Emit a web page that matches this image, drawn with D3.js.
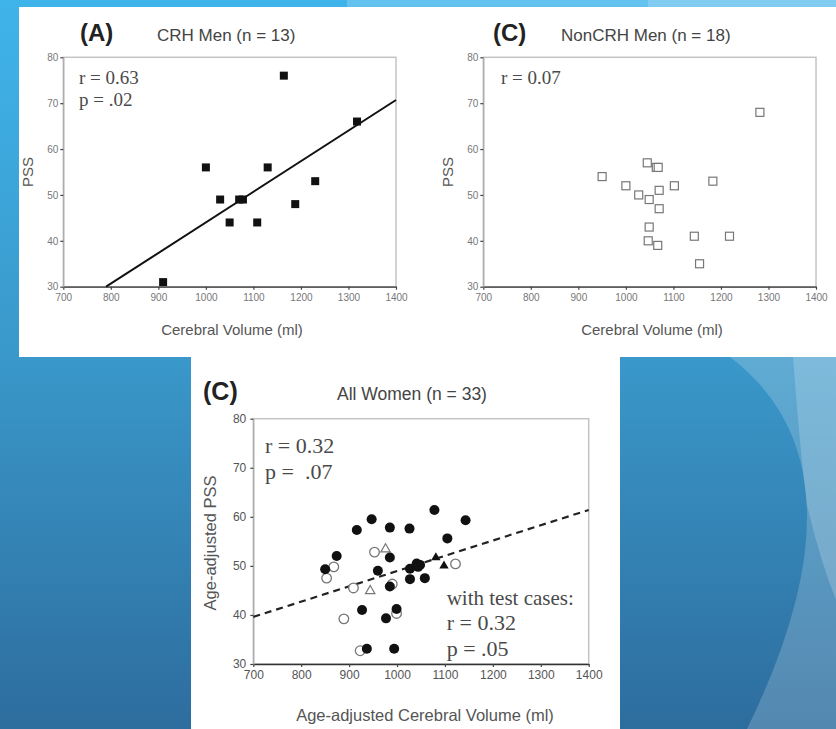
<!DOCTYPE html>
<html>
<head>
<meta charset="utf-8">
<script src="https://cdn.jsdelivr.net/npm/d3@7"></script>
<style>
  body { margin: 0; background: #2f74a4; }
  svg { display: block; }
</style>
</head>
<body>
<div id="chart"></div>
<script>
  // tick values shared by the three panels
  var volumeTicks = [700, 800, 900, 1000, 1100, 1200, 1300, 1400];
  var pssTicks = [30, 40, 50, 60, 70, 80];

  // (A) CRH men
  var crhVolume = [910, 1000, 1030, 1050, 1070, 1078, 1108, 1130, 1164, 1188, 1230, 1318];
  var crhPss = [31, 56, 49, 44, 49, 49, 44, 56, 76, 48, 53, 66];
  var crhFit = [[790, 30], [1400, 70.7]];

  // (C) NonCRH men
  var nonCrhVolume = [950, 1000, 1027, 1045, 1049, 1049, 1047, 1064, 1068, 1070, 1070, 1067, 1102, 1144, 1155, 1183, 1218, 1282];
  var nonCrhPss = [54, 52, 50, 57, 49, 43, 40, 56, 56, 51, 47, 39, 52, 41, 35, 53, 41, 68];

  // (C) all women
  var womenFilledVol = [850, 874, 916, 947, 985, 985, 960, 985, 1026, 1078, 1143, 1105, 1027, 1041, 1048, 1044, 1027, 1058, 927, 999, 977, 937, 994];
  var womenFilledPss = [49.3, 52, 57.3, 59.5, 57.8, 51.7, 49, 45.8, 57.6, 61.4, 59.3, 55.6, 49.4, 50.5, 50.2, 49.8, 47.3, 47.5, 41, 41.2, 39.3, 33.1, 33.1];
  var womenOpenVol = [853, 868, 953, 909, 889, 999, 990, 923, 1122];
  var womenOpenPss = [47.5, 49.8, 52.8, 45.5, 39.2, 40.3, 46.3, 32.7, 50.4];
  var womenFilledTriVol = [1081, 1098];
  var womenFilledTriPss = [51.7, 50];
  var womenOpenTriVol = [976, 944];
  var womenOpenTriPss = [53.4, 44.9];
  var womenFit = [[700, 39.6], [1400, 61.4]];

  var W = 836, H = 729;
  var sans = "'Liberation Sans', Arial, sans-serif";
  var serif = "'Liberation Serif', 'Times New Roman', serif";

  var svg = d3.select("#chart")
    .append("svg")
    .attr("width", W)
    .attr("height", H);

  // ---- slide background ----
  var defs = svg.append("defs");
  var grad = defs.append("linearGradient")
    .attr("id", "bg").attr("x1", 0).attr("y1", 0).attr("x2", 0).attr("y2", 1);
  grad.append("stop").attr("offset", "0%").attr("stop-color", "#3fb4ea");
  grad.append("stop").attr("offset", "49%").attr("stop-color", "#3a98ca");
  grad.append("stop").attr("offset", "100%").attr("stop-color", "#2d6d9e");

  svg.append("rect").attr("width", W).attr("height", H).attr("fill", "url(#bg)");

  // lighter curved bands on the right
  svg.append("path")
    .attr("d", "M730,357 Q875,467 747,729 L836,729 L836,357 Z M347,0 L836,0 L836,8 L347,8 Z")
    .attr("fill", "#fff").attr("fill-opacity", 0.19);
  svg.append("path")
    .attr("d", "M793,357 Q800,450 807,505 Q820,560 836,600 L836,357 Z M648,0 L836,0 L836,8 L648,8 Z")
    .attr("fill", "#fff").attr("fill-opacity", 0.19);

  // white figure cut-outs
  svg.append("rect").attr("x", 19).attr("y", 7).attr("width", W - 19).attr("height", 350).attr("fill", "#fff");
  svg.append("rect").attr("x", 191).attr("y", 357).attr("width", 429).attr("height", H - 357).attr("fill", "#fff");

  // ---- one scatter panel ----
  function drawPanel(p)
  {
    var x = d3.scaleLinear().domain([700, 1400]).range([p.left, p.right]);
    var y = d3.scaleLinear().domain([30, 80]).range([p.bottom, p.top]);
    var g = svg.append("g");

    // frame
    g.append("rect")
      .attr("x", p.left).attr("y", p.top)
      .attr("width", p.right - p.left).attr("height", p.bottom - p.top)
      .attr("fill", "none").attr("stroke", "#c4c4c4").attr("stroke-width", 1.5);

    var ax = g.append("g")
      .attr("transform", "translate(0," + p.bottom + ")")
      .call(d3.axisBottom(x).tickValues(volumeTicks).tickFormat(d3.format("d"))
        .tickSize(3).tickSizeOuter(0).tickPadding(p.xPad));
    ax.select(".domain").attr("stroke", "#333").attr("stroke-width", 1.3);

    var ay = g.append("g")
      .attr("transform", "translate(" + p.left + ",0)")
      .call(d3.axisLeft(y).tickValues(pssTicks).tickFormat(d3.format("d"))
        .tickSize(3).tickSizeOuter(0).tickPadding(p.yPad));
    ay.select(".domain").attr("stroke", "#aaa").attr("stroke-width", 1.3);

    [ax, ay].forEach(function(a) {
      a.selectAll(".tick line").attr("stroke", "#444").attr("stroke-width", 1.2);
      a.selectAll("text")
        .attr("font-family", sans)
        .attr("font-size", p.tickFont)
        .attr("fill", p.tickColor);
    });

    // titles
    g.append("text")
      .attr("x", p.tagX).attr("y", p.titleY)
      .attr("font-family", sans).attr("font-weight", "bold")
      .attr("font-size", p.tagFont).attr("fill", "#222")
      .text(p.tag);
    g.append("text")
      .attr("x", p.titleX).attr("y", p.titleY)
      .attr("font-family", sans).attr("font-size", p.titleFont).attr("fill", "#444")
      .text(p.title);

    // axis names
    g.append("text")
      .attr("transform", "translate(" + p.yLabelX + "," + p.yLabelY + ")rotate(-90)")
      .attr("text-anchor", "middle")
      .attr("font-family", sans).attr("font-size", p.labelFont).attr("fill", "#555")
      .text(p.yLabel);
    g.append("text")
      .attr("x", p.xLabelX).attr("y", p.xLabelY)
      .attr("text-anchor", "middle")
      .attr("font-family", sans).attr("font-size", p.labelFont).attr("fill", "#555")
      .text(p.xLabel);

    return { g: g, x: x, y: y };
  }

  function addNote(g, xPos, yPos, size, txt)
  {
    g.append("text")
      .attr("x", xPos).attr("y", yPos)
      .attr("font-family", serif).attr("font-size", size).attr("fill", "#4a4a4a")
      .text(txt);
  }

  var line = function(sc) {
    return d3.line().x(function(d) { return sc.x(d[0]); }).y(function(d) { return sc.y(d[1]); });
  };

  // ---- (A) CRH men ----
  var pa = drawPanel({
    left: 63.3, right: 396, top: 57.3, bottom: 286.7,
    xPad: 4, yPad: 2, tickFont: 10, tickColor: "#777",
    tag: "(A)", tagX: 80, tagFont: 24, title: "CRH Men (n = 13)", titleX: 157, titleY: 41, titleFont: 17,
    yLabel: "PSS", yLabelX: 33, yLabelY: 172, xLabel: "Cerebral Volume (ml)", xLabelX: 232, xLabelY: 335, labelFont: 15
  });
  pa.g.append("path").datum(crhFit)
    .attr("d", line(pa)).attr("stroke", "#111").attr("stroke-width", 2).attr("fill", "none");
  pa.g.selectAll("rect.pt")
    .data(crhVolume)
    .enter()
    .append("rect")
    .attr("class", "pt")
    .attr("x", function(d) { return pa.x(d) - 4; })
    .attr("y", function(d, i) { return pa.y(crhPss[i]) - 4; })
    .attr("width", 8).attr("height", 8)
    .attr("fill", "#111");
  addNote(pa.g, 79, 84, 19, "r = 0.63");
  addNote(pa.g, 79, 106, 19, "p = .02");

  // ---- (C) NonCRH men ----
  var pc = drawPanel({
    left: 483.3, right: 816, top: 57.3, bottom: 286.7,
    xPad: 4, yPad: 2, tickFont: 10, tickColor: "#777",
    tag: "(C)", tagX: 493, tagFont: 24, title: "NonCRH Men (n = 18)", titleX: 561, titleY: 41, titleFont: 17,
    yLabel: "PSS", yLabelX: 453, yLabelY: 172, xLabel: "Cerebral Volume (ml)", xLabelX: 652, xLabelY: 335, labelFont: 15
  });
  pc.g.selectAll("rect.pt")
    .data(nonCrhVolume)
    .enter()
    .append("rect")
    .attr("class", "pt")
    .attr("x", function(d) { return pc.x(d) - 4; })
    .attr("y", function(d, i) { return pc.y(nonCrhPss[i]) - 4; })
    .attr("width", 8).attr("height", 8)
    .attr("fill", "#fff").attr("stroke", "#777").attr("stroke-width", 1.2);
  addNote(pc.g, 501, 84, 19, "r = 0.07");

  // ---- (C) all women ----
  var pw = drawPanel({
    left: 253.3, right: 588.7, top: 418.7, bottom: 664,
    xPad: 3, yPad: 4, tickFont: 12, tickColor: "#555",
    tag: "(C)", tagX: 203, tagFont: 25, title: "All Women (n = 33)", titleX: 337, titleY: 400, titleFont: 17.5,
    yLabel: "Age-adjusted PSS", yLabelX: 216, yLabelY: 543, xLabel: "Age-adjusted Cerebral Volume (ml)", xLabelX: 425, xLabelY: 721, labelFont: 16.5
  });
  pw.g.append("path").datum(womenFit)
    .attr("d", line(pw)).attr("stroke", "#222").attr("stroke-width", 2.2)
    .attr("stroke-dasharray", "7,5").attr("fill", "none");

  var tri = d3.symbol().type(d3.symbolTriangle).size(38);

  pw.g.selectAll("circle.open")
    .data(womenOpenVol)
    .enter()
    .append("circle")
    .attr("class", "open")
    .attr("cx", function(d) { return pw.x(d); })
    .attr("cy", function(d, i) { return pw.y(womenOpenPss[i]); })
    .attr("r", 4.8)
    .attr("fill", "#fff").attr("stroke", "#777").attr("stroke-width", 1.3);

  pw.g.selectAll("path.opentri")
    .data(womenOpenTriVol)
    .enter()
    .append("path")
    .attr("class", "opentri")
    .attr("d", tri)
    .attr("transform", function(d, i) { return "translate(" + pw.x(d) + "," + pw.y(womenOpenTriPss[i]) + ")"; })
    .attr("fill", "#fff").attr("stroke", "#777").attr("stroke-width", 1.2);

  pw.g.selectAll("circle.filled")
    .data(womenFilledVol)
    .enter()
    .append("circle")
    .attr("class", "filled")
    .attr("cx", function(d) { return pw.x(d); })
    .attr("cy", function(d, i) { return pw.y(womenFilledPss[i]); })
    .attr("r", 5)
    .attr("fill", "#111");

  pw.g.selectAll("path.filltri")
    .data(womenFilledTriVol)
    .enter()
    .append("path")
    .attr("class", "filltri")
    .attr("d", tri)
    .attr("transform", function(d, i) { return "translate(" + pw.x(d) + "," + pw.y(womenFilledTriPss[i]) + ")"; })
    .attr("fill", "#111");

  addNote(pw.g, 265, 453, 22, "r = 0.32");
  addNote(pw.g, 265, 479, 22, "p =\u00a0 .07");
  addNote(pw.g, 446.7, 605, 21, "with test cases:");
  addNote(pw.g, 446.7, 630, 22, "r = 0.32");
  addNote(pw.g, 446.7, 656, 22, "p = .05");
</script>
</body>
</html>
